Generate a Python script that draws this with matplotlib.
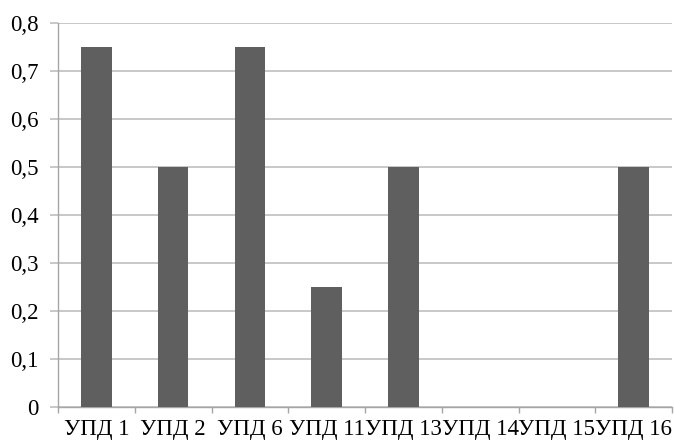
import matplotlib
matplotlib.use("Agg")
import matplotlib.pyplot as plt
from matplotlib.ticker import FuncFormatter, MultipleLocator

categories = ["УПД 1", "УПД 2", "УПД 6", "УПД 11", "УПД 13", "УПД 14", "УПД 15", "УПД 16"]
values = [0.75, 0.5, 0.75, 0.25, 0.5, 0.0, 0.0, 0.5]

plt.rcParams["font.family"] = ["Liberation Serif", "DejaVu Serif"]

W, H = 674, 441
fig = plt.figure(figsize=(W / 100, H / 100), dpi=100)
left, right, top, bottom = 58, 672, 23, 407
ax = fig.add_axes([left / W, 1 - bottom / H, (right - left) / W, (bottom - top) / H])

x = range(len(categories))
ax.bar(x, values, width=0.4, color="#5f5f5f", zorder=3)

ax.set_xlim(-0.5, len(categories) - 0.5)
ax.set_ylim(0, 0.8)
ax.yaxis.set_major_locator(MultipleLocator(0.1))
ax.yaxis.set_major_formatter(FuncFormatter(lambda v, p: "0" if abs(v) < 1e-9 else f"{v:.1f}".replace(".", ",")))
ax.grid(axis="y", color="#bfbfbf", linewidth=1.2, zorder=0)

ax.set_xticks([i - 0.5 for i in range(len(categories) + 1)])
ax.set_xticklabels([])
ax.set_xticks(list(x), minor=True)
ax.set_xticklabels(categories, minor=True, fontsize=16.5)
ax.tick_params(axis="x", which="major", length=4.3, color="#a6a6a6", width=1)
ax.tick_params(axis="x", which="minor", length=0, pad=9)
ax.tick_params(axis="y", length=5.8, color="#bfbfbf", width=1.2, labelsize=16.5, pad=8)

for s in ["top", "right"]:
    ax.spines[s].set_visible(False)
ax.spines["left"].set_color("#a6a6a6")
ax.spines["bottom"].set_color("#a6a6a6")
ax.spines["left"].set_linewidth(1)
ax.spines["bottom"].set_linewidth(1)

fig.savefig("out.png", dpi=100)
